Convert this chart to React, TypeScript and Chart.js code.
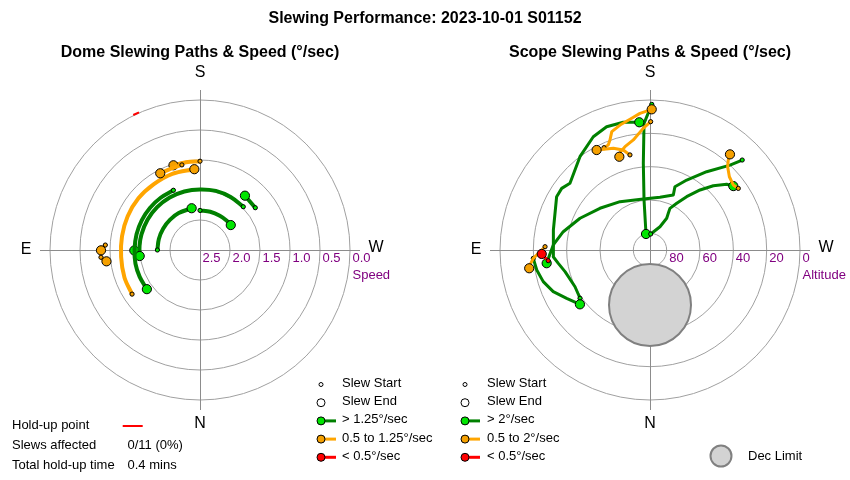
import React, { useEffect, useRef } from "react";
import { Chart, registerables } from "chart.js";
Chart.register(...registerables);

type P = [number, number];
type SpeedClass = "fast" | "medium" | "slow";

// ---------- texts ----------
const TITLE = "Slewing Performance: 2023-10-01 S01152";
const DOME_TITLE = "Dome Slewing Paths & Speed (°/sec)";
const SCOPE_TITLE = "Scope Slewing Paths & Speed (°/sec)";
const DOME_LEGEND = ["Slew Start", "Slew End", "> 1.25°/sec", "0.5 to 1.25°/sec", "< 0.5°/sec"];
const SCOPE_LEGEND = ["Slew Start", "Slew End", "> 2°/sec", "0.5 to 2°/sec", "< 0.5°/sec"];
const INFO_LABELS = ["Hold-up point", "Slews affected", "Total hold-up time"];
const INFO_VALUES = ["", "0/11 (0%)", "0.4 mins"];
const DEC_LIMIT_LABEL = "Dec Limit";

// ---------- axes ----------
const DOME_SPEED_CENTER = 2.5;
const DOME_RING_SPEEDS = [2.0, 1.5, 1.0, 0.5, 0.0];
const DOME_TICK_SPEEDS = [2.5, 2.0, 1.5, 1.0, 0.5, 0.0];
const SCOPE_RING_ALTS = [80, 60, 40, 20, 0];
const SCOPE_TICK_ALTS = [80, 60, 40, 20, 0];

// ---------- dome slews: [azimuth deg, speed deg/s] ----------
const DOME_D1: P[] = [[57, 1.15], [70, 1.16], [85, 1.18], [100, 1.18], [115, 1.17], [130, 1.16], [145, 1.16], [160, 1.15], [176, 1.15]];
const DOME_D2: P[] = [[180, 1.02], [171, 1.02], [162.6, 1.02]];
const DOME_D3: P[] = [[168, 1.05], [160, 1.06], [152.6, 1.06]];
const DOME_D4: P[] = [[93, 0.92], [89.8, 0.85]];
const DOME_D5: P[] = [[85.8, 0.845], [83.1, 0.93]];
const DOME_G1: P[] = [[225, 1.48], [210, 1.48], [195, 1.48], [180, 1.49], [165, 1.49], [150, 1.49], [135, 1.49], [120, 1.49], [105, 1.49], [94, 1.49], [84.3, 1.49]];
const DOME_G2: P[] = [[156, 1.41], [143, 1.41], [130, 1.41], [117, 1.41], [104, 1.41], [91, 1.41], [78, 1.4], [66, 1.4], [53.6, 1.4]];
const DOME_G3: P[] = [[84.3, 1.49], [89.6, 1.405]];
const DOME_G4: P[] = [[90, 1.79], [105, 1.79], [120, 1.79], [135, 1.79], [150, 1.79], [168.7, 1.79]];
const DOME_G5: P[] = [[180, 1.84], [195, 1.84], [210, 1.84], [222, 1.84], [231, 1.84]];
const DOME_G6: P[] = [[232.6, 1.34], [219.6, 1.325]];
const DOME_HOLDUP: P[] = [[153.7, -0.01], [156.1, -0.01]];

// ---------- scope slews: [azimuth deg, altitude deg] ----------
const SCOPE_G1: P[] = [[180.7, 2.6], [177.3, 13.9], [175.6, 37.8], [173.2, 59.8], [166, 80.1]];
const SCOPE_G2: P[] = [[182.5, 80.4], [203.2, 74.8], [207.8, 68.5], [206.5, 65.4], [205.6, 62.3], [209.8, 57.7], [214.5, 51.2], [219.8, 43.1], [224.6, 35.9], [229.4, 29.4], [232.5, 27]];
const SCOPE_G3: P[] = [[225.7, 12.7], [223.3, 20], [215.9, 32], [207.7, 42.6], [201.5, 49.2], [203, 54.2], [190.7, 57.8], [172.5, 59.1], [148.2, 55.9], [129.8, 50.9], [114.4, 43.9], [101.9, 36.8], [93, 31.9], [85.3, 28.8], [82.7, 27.5]];
const SCOPE_G4: P[] = [[55.4, 39], [63.9, 39.9], [75.7, 37.4], [81.7, 34.4], [86, 31.8], [101.7, 30.8], [119.7, 25.5], [124.9, 25.4], [129.8, 27.5], [143.1, 20], [153.4, 14], [160.6, 11.6], [168.2, 11.7], [175.2, 13.1]];
const SCOPE_G5: P[] = [[85.9, 19.8], [80, 21], [73.5, 23.2], [66.7, 26.8], [59.9, 32.2], [52.2, 36.8]];
const SCOPE_O1: P[] = [[155.8, 22.7], [158.3, 22.2], [160, 19.8], [162.1, 15.4], [166.5, 12.9], [172.1, 10.2], [175.8, 7.8], [180.7, 5.6]];
const SCOPE_O2: P[] = [[168.1, 31.7], [165, 27.9], [160.2, 25.1], [151.9, 22]];
const SCOPE_O3: P[] = [[180.3, 13], [176.8, 16.9], [171.4, 23.2], [166.4, 26.2], [163.4, 28.4], [161.8, 31.1]];
const SCOPE_O4: P[] = [[235.1, 25.4], [232, 26.6], [227.3, 25.2], [223, 21.7], [221, 18.4], [219.9, 15.2]];
const SCOPE_O5: P[] = [[91.8, 27], [89.1, 24], [85.9, 19.8], [83.6, 18], [81.4, 16.7]];
const SCOPE_R1: P[] = [[84, 28.6], [87.9, 25]];

// Dec limit: centre [azimuth, altitude] and radius in degrees
const DEC_LIMIT_CENTER: P = [0, 57];
const DEC_LIMIT_RADIUS = 24.6;

const DOME_SLEWS: { cls: SpeedClass; pts: P[] }[] = [
  { cls: "fast", pts: DOME_G3 },
  { cls: "fast", pts: DOME_G1 },
  { cls: "fast", pts: DOME_G2 },
  { cls: "fast", pts: DOME_G4 },
  { cls: "fast", pts: DOME_G5 },
  { cls: "fast", pts: DOME_G6 },
  { cls: "medium", pts: DOME_D1 },
  { cls: "medium", pts: DOME_D2 },
  { cls: "medium", pts: DOME_D3 },
  { cls: "medium", pts: DOME_D4 },
  { cls: "medium", pts: DOME_D5 },
];
const SCOPE_SLEWS: { cls: SpeedClass; pts: P[] }[] = [
  { cls: "fast", pts: SCOPE_G1 },
  { cls: "fast", pts: SCOPE_G2 },
  { cls: "fast", pts: SCOPE_G3 },
  { cls: "fast", pts: SCOPE_G4 },
  { cls: "fast", pts: SCOPE_G5 },
  { cls: "medium", pts: SCOPE_O1 },
  { cls: "medium", pts: SCOPE_O2 },
  { cls: "medium", pts: SCOPE_O3 },
  { cls: "medium", pts: SCOPE_O4 },
  { cls: "medium", pts: SCOPE_O5 },
  { cls: "slow", pts: SCOPE_R1 },
];

// ---------- styles ----------
const FONT = '"Liberation Sans", Arial, sans-serif';
const LINE_COLOR: Record<SpeedClass, string> = { fast: "#008000", medium: "#ffa500", slow: "#ff0000" };
const DOT_COLOR: Record<SpeedClass, string> = { fast: "#00e600", medium: "#f5a000", slow: "#ff0000" };
const GRID_COLOR = "#a0a0a0";
const AXIS_COLOR = "#8c8c8c";
const TICK_COLOR = "#800080";
const W = 850;
const H = 480;
const DOME_CX = 200, DOME_CY = 250, DOME_PX = 60; // px per speed unit
const SCOPE_CX = 650, SCOPE_CY = 250, SCOPE_PX = 150 / 90; // px per zenith degree

function polar(az: number, rho: number) {
  const t = ((az - 180) * Math.PI) / 180;
  return { x: rho * Math.sin(t), y: rho * Math.cos(t) };
}

function slewDataset(s: { cls: SpeedClass; pts: P[] }, toRho: (v: number) => number, xId: string, yId: string, lw: number, tension: number, order: number) {
  const data = s.pts.map(([az, v]) => polar(az, toRho(v)));
  const n = data.length;
  const radii = data.map((_, i) => (i === n - 1 ? 4.6 : i === 0 ? 2.1 : 0));
  return {
    type: "scatter" as const,
    data,
    xAxisID: xId,
    yAxisID: yId,
    showLine: true,
    borderColor: LINE_COLOR[s.cls],
    borderWidth: lw,
    tension,
    borderCapStyle: "round",
    borderJoinStyle: "round",
    pointRadius: radii,
    pointHoverRadius: radii,
    pointBackgroundColor: DOT_COLOR[s.cls],
    pointBorderColor: "#000",
    pointBorderWidth: 1,
    fill: false,
    clip: false,
    order,
  };
}

function txt(ctx: CanvasRenderingContext2D, s: string, x: number, y: number, font: string, color: string, align: CanvasTextAlign = "left") {
  ctx.font = font;
  ctx.fillStyle = color;
  ctx.textAlign = align;
  ctx.textBaseline = "middle";
  ctx.fillText(s, x, y);
}

function drawGrid(chart: any, xId: string, yId: string, rhos: number[]) {
  const ctx: CanvasRenderingContext2D = chart.ctx;
  const xs = chart.scales[xId], ys = chart.scales[yId];
  const cx = xs.getPixelForValue(0), cy = ys.getPixelForValue(0);
  const unit = xs.getPixelForValue(1) - cx;
  ctx.save();
  ctx.strokeStyle = GRID_COLOR;
  ctx.lineWidth = 1;
  let outer = 0;
  rhos.forEach((rho) => {
    const r = rho * unit;
    outer = Math.max(outer, r);
    ctx.beginPath();
    ctx.arc(cx, cy, r, 0, Math.PI * 2);
    ctx.stroke();
  });
  const ext = outer + 10;
  ctx.strokeStyle = AXIS_COLOR;
  ctx.beginPath();
  ctx.moveTo(cx - ext, cy + 0.5);
  ctx.lineTo(cx + ext, cy + 0.5);
  ctx.moveTo(cx + 0.5, cy - ext);
  ctx.lineTo(cx + 0.5, cy + ext);
  ctx.stroke();
  ctx.restore();
}

function drawPanelText(chart: any, xId: string, yId: string, ticks: { rho: number; label: string }[], axisTitle: string, title: string) {
  const ctx: CanvasRenderingContext2D = chart.ctx;
  const xs = chart.scales[xId], ys = chart.scales[yId];
  const cx = xs.getPixelForValue(0), cy = ys.getPixelForValue(0);
  const unit = xs.getPixelForValue(1) - cx;
  const f16 = `16px ${FONT}`;
  txt(ctx, "S", cx, cy - 177, f16, "#000", "center");
  txt(ctx, "N", cx, cy + 174, f16, "#000", "center");
  txt(ctx, "E", cx - 174, cy, f16, "#000", "center");
  txt(ctx, "W", cx + 176, cy - 2, f16, "#000", "center");
  let outer = 0;
  ticks.forEach((t) => {
    const r = t.rho * unit;
    outer = Math.max(outer, r);
    txt(ctx, t.label, cx + r + 2.5, cy + 8.5, `13px ${FONT}`, TICK_COLOR);
  });
  txt(ctx, axisTitle, cx + outer + 2.5, cy + 25, `13px ${FONT}`, TICK_COLOR);
  txt(ctx, title, cx, 53, `bold 16px ${FONT}`, "#000", "center");
}

function drawLegend(ctx: CanvasRenderingContext2D, labels: string[], mx: number, tx: number, y0: number, dy: number) {
  const classes: SpeedClass[] = ["fast", "medium", "slow"];
  labels.forEach((label, i) => {
    const y = y0 + i * dy;
    ctx.save();
    ctx.lineWidth = 1;
    ctx.strokeStyle = "#000";
    if (i < 2) {
      ctx.beginPath();
      ctx.arc(mx, y + 1, i === 0 ? 2 : 4, 0, Math.PI * 2);
      ctx.fillStyle = "#fff";
      ctx.fill();
      ctx.stroke();
    } else {
      const c = classes[i - 2];
      ctx.strokeStyle = LINE_COLOR[c];
      ctx.lineWidth = 3;
      ctx.beginPath();
      ctx.moveTo(mx, y + 1);
      ctx.lineTo(mx + 15, y + 1);
      ctx.stroke();
      ctx.beginPath();
      ctx.arc(mx, y + 1, 4, 0, Math.PI * 2);
      ctx.fillStyle = DOT_COLOR[c];
      ctx.fill();
      ctx.strokeStyle = "#000";
      ctx.lineWidth = 1;
      ctx.stroke();
    }
    ctx.restore();
    txt(ctx, label, tx, y, `13px ${FONT}`, "#000");
  });
}

const panelsPlugin = {
  id: "panels",
  beforeDatasetsDraw(chart: any) {
    drawGrid(chart, "xL", "yL", DOME_RING_SPEEDS.map((s) => DOME_SPEED_CENTER - s));
    drawGrid(chart, "xR", "yR", SCOPE_RING_ALTS.map((a) => 90 - a));
  },
  afterDatasetsDraw(chart: any) {
    const ctx: CanvasRenderingContext2D = chart.ctx;
    txt(ctx, TITLE, 425, 19, `bold 16px ${FONT}`, "#000", "center");
    drawPanelText(chart, "xL", "yL", DOME_TICK_SPEEDS.map((s) => ({ rho: DOME_SPEED_CENTER - s, label: s.toFixed(1) })), "Speed", DOME_TITLE);
    drawPanelText(chart, "xR", "yR", SCOPE_TICK_ALTS.map((a) => ({ rho: 90 - a, label: String(a) })), "Altitude", SCOPE_TITLE);
    drawLegend(ctx, DOME_LEGEND, 321, 342, 383.5, 18.2);
    drawLegend(ctx, SCOPE_LEGEND, 465, 487, 383.5, 18.2);
    // info block
    INFO_LABELS.forEach((l, i) => {
      const y = 425 + i * 20;
      txt(ctx, l, 12, y, `13px ${FONT}`, "#000");
      if (INFO_VALUES[i]) txt(ctx, INFO_VALUES[i], 127.5, y, `13px ${FONT}`, "#000");
    });
    ctx.save();
    ctx.strokeStyle = "#ff0000";
    ctx.lineWidth = 2;
    ctx.beginPath();
    ctx.moveTo(122.7, 426);
    ctx.lineTo(142.7, 426);
    ctx.stroke();
    // dec limit legend
    ctx.beginPath();
    ctx.arc(721, 456, 10.5, 0, Math.PI * 2);
    ctx.fillStyle = "#d3d3d3";
    ctx.fill();
    ctx.strokeStyle = "#808080";
    ctx.lineWidth = 2;
    ctx.stroke();
    ctx.restore();
    txt(ctx, DEC_LIMIT_LABEL, 748, 456, `13px ${FONT}`, "#000");
  },
};

export default function App() {
  const ref = useRef<HTMLCanvasElement | null>(null);
  useEffect(() => {
    if (!ref.current) return;
    const datasets: any[] = [];
    const all = DOME_SLEWS.length + SCOPE_SLEWS.length + 5;
    let k = 0;
    datasets.push({
      type: "scatter",
      data: [polar(DEC_LIMIT_CENTER[0], 90 - DEC_LIMIT_CENTER[1])],
      xAxisID: "xR",
      yAxisID: "yR",
      pointRadius: (c: any) => {
        const s = c.chart.scales.xR;
        return Math.abs(s.getPixelForValue(DEC_LIMIT_RADIUS) - s.getPixelForValue(0));
      },
      pointBackgroundColor: "#d3d3d3",
      pointBorderColor: "#808080",
      pointBorderWidth: 2,
      clip: false,
      order: all + 10,
    });
    DOME_SLEWS.forEach((s) => datasets.push(slewDataset(s, (v) => DOME_SPEED_CENTER - v, "xL", "yL", 4, 0.35, all - k++)));
    datasets.push({
      type: "scatter",
      data: DOME_HOLDUP.map(([az, v]) => polar(az, DOME_SPEED_CENTER - v)),
      xAxisID: "xL",
      yAxisID: "yL",
      showLine: true,
      borderColor: "#ff0000",
      borderWidth: 2,
      pointRadius: 0,
      clip: false,
      order: all - k++,
    });
    SCOPE_SLEWS.forEach((s) => datasets.push(slewDataset(s, (v) => 90 - v, "xR", "yR", 3, 0, all - k++)));

    const chart = new Chart(ref.current, {
      type: "scatter",
      data: { datasets },
      options: {
        animation: false,
        responsive: false,
        events: [],
        layout: { padding: 0, autoPadding: false },
        plugins: { legend: { display: false }, title: { display: false }, tooltip: { enabled: false } },
        scales: {
          x: { display: false },
          y: { display: false },
          xL: { type: "linear", display: false, min: -DOME_CX / DOME_PX, max: (W - DOME_CX) / DOME_PX },
          yL: { type: "linear", display: false, min: -(H - DOME_CY) / DOME_PX, max: DOME_CY / DOME_PX },
          xR: { type: "linear", display: false, min: -SCOPE_CX / SCOPE_PX, max: (W - SCOPE_CX) / SCOPE_PX },
          yR: { type: "linear", display: false, min: -(H - SCOPE_CY) / SCOPE_PX, max: SCOPE_CY / SCOPE_PX },
        },
      } as any,
      plugins: [panelsPlugin],
    });
    return () => chart.destroy();
  }, []);
  return (
    <div style={{ position: "absolute", left: 0, top: 0, width: W, height: H, background: "#fff" }}>
      <canvas ref={ref} width={W} height={H} style={{ display: "block" }} />
    </div>
  );
}
